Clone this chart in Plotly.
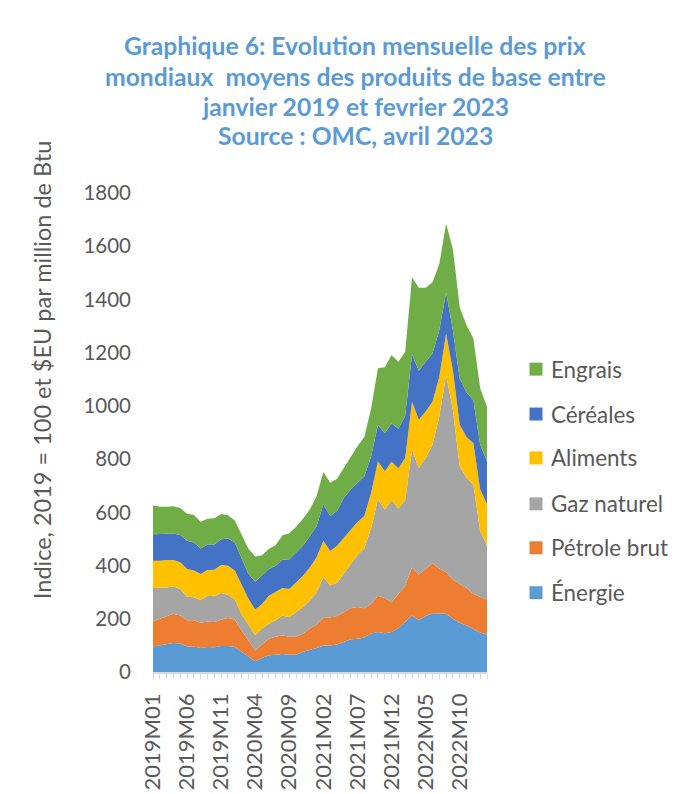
import plotly.graph_objects as go

months = [f"{y}M{m:02d}" for y in (2019, 2020, 2021, 2022) for m in range(1, 13)] + ["2023M01", "2023M02"]

energie = [96, 100, 104, 109, 107, 96, 96, 90, 94, 93, 98, 98, 94, 76, 57, 40, 53, 63, 65, 68,
           65, 65, 76, 82, 90, 100, 100, 103, 113, 123, 125, 130, 145, 150, 146, 150, 165, 190, 212, 194,
           210, 221, 219, 219, 200, 185, 175, 163, 148, 140]
petrole = [94, 100, 106, 110, 105, 98, 98, 95, 96, 95, 98, 105, 103, 79, 62, 41, 50, 62, 67, 70,
           67, 67, 68, 81, 88, 103, 105, 107, 112, 117, 119, 110, 111, 137, 132, 112, 128, 134, 181, 172,
           177, 188, 170, 156, 147, 146, 141, 130, 133, 132]
gaz = [126, 116, 108, 102, 100, 89, 87, 86, 97, 97, 101, 87, 75, 61, 56, 57, 60, 56, 62, 74,
       74, 93, 100, 105, 122, 153, 120, 125, 145, 165, 196, 225, 284, 362, 333, 383, 321, 321, 442, 401,
       417, 445, 571, 741, 638, 442, 414, 412, 249, 202]
aliments = [102, 102, 103, 100, 100, 104, 100, 97, 96, 99, 105, 109, 109, 112, 100, 97, 93, 106, 106, 104,
            106, 112, 118, 125, 131, 137, 130, 139, 135, 131, 124, 121, 134, 143, 143, 145, 152, 159, 181, 181,
            175, 162, 149, 156, 149, 156, 153, 155, 156, 156]
cereales = [100, 100, 97, 99, 103, 106, 106, 96, 96, 95, 97, 103, 106, 100, 93, 104, 106, 100, 99, 106,
            112, 112, 112, 116, 118, 137, 131, 131, 150, 150, 147, 150, 136, 137, 143, 145, 148, 158, 178, 184,
            187, 181, 175, 155, 150, 174, 167, 162, 168, 162]
engrais = [108, 103, 103, 103, 101, 102, 103, 101, 97, 99, 95, 87, 82, 86, 95, 95, 77, 75, 78, 92,
           97, 97, 102, 102, 112, 122, 125, 121, 112, 118, 137, 147, 180, 212, 248, 256, 252, 241, 289, 312,
           278, 268, 249, 258, 305, 268, 253, 231, 212, 205]

series_names = ["Énergie", "Pétrole brut", "Gaz naturel", "Aliments", "Céréales", "Engrais"]
series_values = [energie, petrole, gaz, aliments, cereales, engrais]
series_colors = ["#5B9BD5", "#ED7D31", "#A5A5A5", "#FFC000", "#4472C4", "#70AD47"]

title_lines = ["Graphique 6: Evolution mensuelle des prix",
               "mondiaux  moyens des produits de base entre",
               "janvier 2019 et fevrier 2023",
               "Source : OMC, avril 2023"]
y_title = "Indice, 2019 = 100 et $EU par million de Btu"
y_ticks = [0, 200, 400, 600, 800, 1000, 1200, 1400, 1600, 1800]

FONT = "Lato"
GREY = "#595959"

# the page body adds an 8px offset, so the figure is 8px smaller
OFF = 8
W, H = 689 - OFF, 794 - OFF
PL, PR, PT, PB = 153, 487, 192.5, 672.5   # plot area in reference pixels
PW, PH = PR - PL, PB - PT


def px(xr):
    return (xr - PL) / PW


def py(yr):
    return (PB - yr) / PH


fig = go.Figure()
for name, vals, col in zip(series_names, series_values, series_colors):
    fig.add_trace(go.Scatter(x=months, y=vals, name=name, stackgroup="one", mode="lines",
                             line=dict(width=0, color=col), fillcolor=col, showlegend=False,
                             hoverinfo="x+y+name"))

tick_text = [m if i % 5 == 0 else "" for i, m in enumerate(months)]

fig.update_layout(
    width=W, height=H,
    margin=dict(l=PL - OFF, r=W - (PR - OFF), t=PT - OFF, b=H - (PB - OFF), autoexpand=False),
    paper_bgcolor="white", plot_bgcolor="white",
    font=dict(family=FONT, color=GREY, size=20),
    showlegend=False,
    xaxis=dict(type="category", range=[0, len(months) - 1], tickmode="array",
               tickvals=months, ticktext=tick_text, tickangle=-90, automargin=False,
               ticks="outside", ticklen=5, tickcolor="#D9D9D9",
               showline=True, linecolor="#D9D9D9", linewidth=1.5,
               showgrid=False, zeroline=False, ticklabelstandoff=6,
               tickfont=dict(family=FONT, size=22, color=GREY)),
    yaxis=dict(range=[0, 1800], tickvals=y_ticks, showgrid=False, zeroline=False,
               showline=False, ticks="", ticklabelstandoff=21, automargin=False,
               tickfont=dict(family=FONT, size=20.5, color=GREY)),
)

title_y_px = [45, 75.5, 105.5, 135]
for line, ypx in zip(title_lines, title_y_px):
    fig.add_annotation(text=f"<b>{line}</b>", xref="paper", yref="paper",
                       x=px(355), y=py(ypx),
                       xanchor="center", yanchor="middle", showarrow=False,
                       font=dict(family=FONT, size=24.7, color="#5B9BD5"))

fig.add_annotation(text=y_title, xref="paper", yref="paper",
                   x=px(42), y=py(370), textangle=-90,
                   xanchor="center", yanchor="middle", showarrow=False,
                   font=dict(family=FONT, size=23.5, color=GREY))

# legend drawn as swatch + label, top to bottom: Engrais ... Énergie
legend_y_px = [369, 414, 458, 504, 548, 593]
for (name, col), ly in zip(reversed(list(zip(series_names, series_colors))), legend_y_px):
    fig.add_shape(type="rect", xref="paper", yref="paper",
                  x0=px(529.5), x1=px(542.5), y0=py(ly + 6.5), y1=py(ly - 6.5),
                  fillcolor=col, line=dict(width=0))
    fig.add_annotation(text=name, xref="paper", yref="paper", x=px(549), y=py(ly),
                       xanchor="left", yanchor="middle", showarrow=False,
                       font=dict(family=FONT, size=22.4, color=GREY))

fig.add_shape(type="line", xref="paper", yref="paper",
              x0=px(684), x1=px(684), y0=py(794), y1=py(0),
              line=dict(color="#D9D9D9", width=1))

fig.write_html("out.html")
